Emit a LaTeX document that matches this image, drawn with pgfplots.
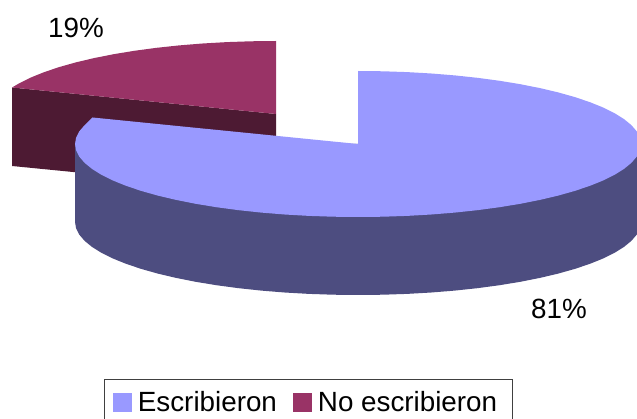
\documentclass[border=0pt]{standalone}
\usepackage{pgfplots}
\pgfplotsset{compat=1.18}
\usepackage{fontspec}
\setmainfont{Liberation Sans}
\definecolor{bigtop}{HTML}{9999FF}
\definecolor{bigside}{HTML}{4D4D80}
\definecolor{smalltop}{HTML}{993366}
\definecolor{smallside}{HTML}{4D1A33}
\newcommand{\lab}{\fontsize{27.8}{30}\selectfont}
\begin{document}
\begin{tikzpicture}
\path[use as bounding box,clip] (0,0) rectangle (637pt,419pt);
\begin{axis}[
  scale only axis, width=637pt, height=419pt,
  xmin=0, xmax=637, ymin=0, ymax=419, y dir=reverse,
  hide axis,
  legend columns=2,
  legend cell align=left,
  legend image code/.code={\fill[#1,draw=none] (0pt,-9.5pt) rectangle (19pt,9.5pt);},
  legend style={
    at={(axis cs:103.5,379)}, anchor=north west,
    draw=black!75, line width=0.8pt, fill=white,
    font=\lab, inner xsep=9pt, inner ysep=11pt,
    /tikz/every even column/.append style={column sep=15pt},
    /tikz/every odd column/.append style={column sep=5pt},
    nodes={inner sep=1pt},
  },
]
\addlegendimage{fill=bigtop}
\addlegendentry{Escribieron}
\addlegendimage{fill=smalltop}
\addlegendentry{No escribieron\hspace*{5pt}}

% small slice, side
\addplot[forget plot, fill=smallside, draw=none] coordinates {
 (12,87.5) (276,114) (276,192) (12,166)} -- cycle;
% small slice, top
\addplot[forget plot, fill=smalltop, draw=none] coordinates {
 (276,114) (276,41) (251.33,41.28) (226.86,42.11) (202.75,43.49) (179.21,45.40)
 (156.40,47.84) (134.5,50.78) (113.68,54.20) (94.09,58.08) (75.89,62.38)
 (59.21,67.08) (44.18,72.13) (30.91,77.5) (19.51,83.15) (12,87.5)} -- cycle;
% big slice, side
\addplot[forget plot, fill=bigside, draw=none] coordinates {
 (75,144) (75,222) (76.08,228.36) (79.30,234.68) (84.64,240.89) (92.07,246.97)
 (101.51,252.85) (112.91,258.5) (126.18,263.87) (141.21,268.92) (157.89,273.62)
 (176.09,277.92) (195.68,281.80) (216.5,285.22) (238.40,288.16) (261.21,290.60)
 (284.75,292.51) (308.86,293.89) (333.33,294.72) (358,295) (382.67,294.72)
 (407.14,293.89) (431.25,292.51) (454.79,290.60) (477.60,288.16) (499.5,285.22)
 (520.32,281.80) (539.91,277.92) (558.11,273.62) (574.79,268.92) (589.82,263.87)
 (603.09,258.5) (614.49,252.85) (623.93,246.97) (631.36,240.89) (636.70,234.68)
 (639.92,228.36) (641,222) (641,144)} -- cycle;
% big slice, top
\addplot[forget plot, fill=bigtop, draw=none] coordinates {
 (358,144) (358,71) (382.67,71.28) (407.14,72.11) (431.25,73.49) (454.79,75.40)
 (477.60,77.84) (499.5,80.78) (520.32,84.20) (539.91,88.08) (558.11,92.38)
 (574.79,97.08) (589.82,102.13) (603.09,107.5) (614.49,113.15) (623.93,119.03)
 (631.36,125.11) (636.70,131.32) (639.92,137.64) (641,144)
 (639.92,150.36) (636.70,156.68) (631.36,162.89) (623.93,168.97) (614.49,174.85)
 (603.09,180.5) (589.82,185.87) (574.79,190.92) (558.11,195.62) (539.91,199.92)
 (520.32,203.80) (499.5,207.22) (477.60,210.16) (454.79,212.60) (431.25,214.51)
 (407.14,215.89) (382.67,216.72) (358,217)
 (333.33,216.72) (308.86,215.89) (284.75,214.51) (261.21,212.60) (238.40,210.16)
 (216.5,207.22) (195.68,203.80) (176.09,199.92) (157.89,195.62) (141.21,190.92)
 (126.18,185.87) (112.91,180.5) (101.51,174.85) (92.07,168.97) (84.64,162.89)
 (79.30,156.68) (76.08,150.36) (75,144)
 (76.08,137.64) (79.30,131.32) (84.64,125.11) (92.5,117.5)} -- cycle;

\node[font=\lab, anchor=base, inner sep=0pt] at (axis cs:76,38) {19\%};
\node[font=\lab, anchor=base, inner sep=0pt] at (axis cs:559,319) {81\%};
\end{axis}
\end{tikzpicture}
\end{document}
